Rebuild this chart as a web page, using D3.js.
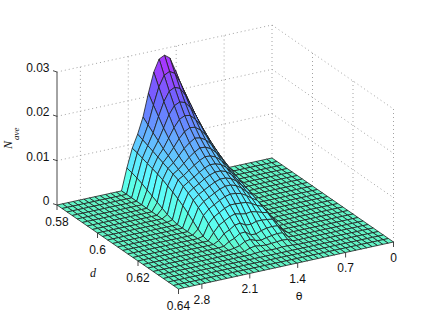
<!DOCTYPE html>
<html><head><meta charset="utf-8">
<style>html,body{margin:0;padding:0;background:#fff}svg{display:block}</style>
<script src="https://cdn.jsdelivr.net/npm/d3@7"></script></head>
<body><svg id="c" width="436" height="327"></svg>
<script>
const zTicks=[0,0.01,0.02,0.03];
const dTicks=[0.58,0.6,0.62,0.64];
const thetaTicks=[0,0.7,1.4,2.1,2.8];
const thetaCells=40, dCells=24;
const firstColumn=9; // columns of constant theta, index 9 up to 27; values in 1e-4, by d index; missing = 0
const hillColumns=[
[3,1],
[23,16,10,5,2],
[41,33,25,18,12,7,4,2,1],
[56,49,42,35,28,22,17,12,7,3],
[82,74,66,58,50,44,38,33,28,23,18,13,9,5,1],
[112,103,94,85,78,71,65,59,54,49,44,39,34,30,26,21,15,8,2],
[143,133,123,113,104,96,88,81,75,69,63,58,52,47,41,35,28,21,13,6,1],
[178,166,153,140,128,117,107,97,89,81,74,68,61,54,46,38,30,22,14,7,2],
[212,197,181,165,150,136,124,113,103,95,87,80,72,63,53,42,31,21,12,6,2],
[246,226,205,185,166,150,136,124,113,104,96,88,80,70,58,45,31,18,10,5,1],
[276,249,223,199,178,159,143,130,118,108,100,92,84,73,59,43,27,13,7,4,1],
[285,256,228,203,180,161,145,131,119,109,100,92,84,74,60,45,28,14,9,5,2],
[279,250,222,197,174,154,137,124,113,104,96,88,80,71,60,48,35,23,14,7,2],
[252,226,201,179,158,141,127,115,105,97,90,82,74,65,55,44,33,22,12,5,1],
[207,188,170,152,137,124,113,104,96,89,82,75,67,58,48,37,25,14,5],
[156,146,136,126,116,108,100,93,87,81,75,68,60,51,41,30,19,9,2],
[120,115,110,105,100,95,90,85,80,73,66,58,49,39,28,16,6,1],
[91,88,84,80,76,72,67,61,55,48,40,31,21,11,3],
[49,46,42,37,31,25,19,13,7,3]];
const colorStops=[0,0.0015,0.005,0.012,0.02,0.026,0.03];
const colorVals=["#62f5c6","#5cffe4","#5cfbff","#63bcff","#6a68ff","#a03cff","#b82cff"];

const svg=d3.select("#c");
const sx=d3.scaleLinear([0,Math.PI],[272,57]);
const sxy=d3.scaleLinear([0,Math.PI],[158,205]);
const dx=d3.scaleLinear([0.58,0.64],[0,121.5]);
const dy=d3.scaleLinear([0.58,0.64],[0,84]);
const zp=d3.scaleLinear([0,0.03],[0,133]);
const P=(t,d,z)=>[sx(t)+dx(d),sxy(t)+dy(d)-zp(z)];
const color=d3.scaleLinear(colorStops,colorVals).clamp(true);
const th=i=>i*Math.PI/thetaCells, dv=j=>0.58+j*0.06/dCells;
const Z=(i,j)=>{const c=hillColumns[i-firstColumn];return c&&c[j]?c[j]*1e-4:0;};

const grid=svg.append("g").attr("fill","none").attr("stroke","#8a8a8a").attr("stroke-width",0.8).attr("stroke-dasharray","1 3");
const seg=(a,b)=>grid.append("line").attr("x1",a[0]).attr("y1",a[1]).attr("x2",b[0]).attr("y2",b[1]);
zTicks.slice(1).forEach(z=>{
  seg(P(Math.PI,0.58,z),P(0,0.58,z));
  seg(P(0,0.58,z),P(0,0.64,z));
});
thetaTicks.forEach(t=>seg(P(t,0.58,0),P(t,0.58,0.03)));
dTicks.slice(1).forEach(d=>seg(P(0,d,0),P(0,d,0.03)));

const ax=svg.append("g").attr("stroke","#333").attr("stroke-width",0.9).attr("fill","none");
const L=(a,b)=>ax.append("line").attr("x1",a[0]).attr("y1",a[1]).attr("x2",b[0]).attr("y2",b[1]);
L(P(Math.PI,0.58,0),P(Math.PI,0.58,0.03));
zTicks.forEach(z=>{const p=P(Math.PI,0.58,z);L([p[0]-4,p[1]-1.3],p);});
dTicks.forEach(d=>{const p=P(Math.PI,d,0);L(p,[p[0],p[1]+5]);});
thetaTicks.forEach(t=>{const p=P(t,0.64,0);L(p,[p[0],p[1]+5]);});

const cells=[];
for(let j=0;j<dCells;j++)for(let i=0;i<thetaCells;i++)cells.push({i,j});
const line=d3.line();
svg.append("g").selectAll("path").data(cells).join("path")
 .attr("d",c=>{const {i,j}=c;return line([P(th(i),dv(j),Z(i,j)),P(th(i+1),dv(j),Z(i+1,j)),P(th(i+1),dv(j+1),Z(i+1,j+1)),P(th(i),dv(j+1),Z(i,j+1))])+"Z";})
 .attr("fill",c=>{const {i,j}=c;return color((Z(i,j)+Z(i+1,j)+Z(i+1,j+1)+Z(i,j+1))/4);})
 .attr("stroke","#1e1e1e").attr("stroke-width",0.8).attr("stroke-linejoin","round");

const T=(x,y,s,anchor="middle")=>svg.append("text").attr("x",x).attr("y",y).attr("text-anchor",anchor)
  .attr("dominant-baseline","central").attr("font-family","Liberation Sans").attr("font-size",12).attr("fill","#111").text(s);
const zFmt=d3.format(".2f");
zTicks.forEach(z=>{const p=P(Math.PI,0.58,z);T(49.5,p[1]-4,z===0?"0":zFmt(z),"end");});
const dFmt=d=>d===0.6?"0.6":d3.format(".2f")(d);
dTicks.forEach(d=>{const p=P(Math.PI,d,0);T(p[0],p[1]+16.5,dFmt(d));});
thetaTicks.forEach(t=>{const p=P(t,0.64,0);T(p[0],p[1]+16,t===0?"0":d3.format(".1f")(t));});
T(299,296,"θ").attr("font-family","DejaVu Sans").attr("font-size",11);
svg.append("text").attr("x",93).attr("y",273).attr("text-anchor","middle").attr("dominant-baseline","central")
 .attr("font-family","Liberation Serif").attr("font-style","italic").attr("font-size",12).attr("fill","#111").text("d");
const yl=svg.append("g").attr("font-family","Liberation Serif").attr("font-style","italic").attr("fill","#111");
yl.append("text").attr("transform","translate(12,149) rotate(-90)").attr("font-size",12).text("N");
yl.append("text").attr("transform","translate(19,140) rotate(-90)").attr("font-size",9).text("ave");
</script></body></html>
